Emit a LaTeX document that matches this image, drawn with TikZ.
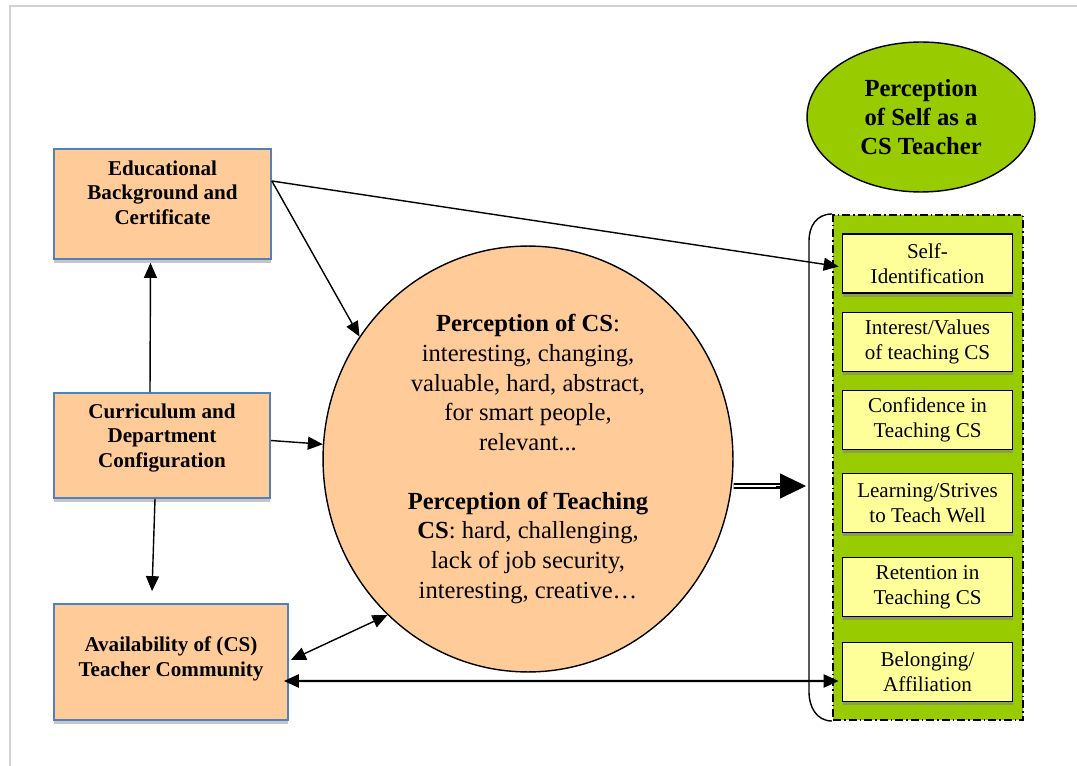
\documentclass[tikz,border=0pt]{standalone}
\usepackage{fontspec}
\setmainfont{Liberation Serif}
\usepackage{xcolor}
\usepackage{tikz}
\usetikzlibrary{arrows.meta,shapes.geometric,shadows}

\definecolor{peach}{HTML}{FFCC99}
\definecolor{boxblue}{HTML}{4F81BD}
\definecolor{leaf}{HTML}{99CC00}
\definecolor{paleyellow}{HTML}{FFFF99}

\begin{document}
\begin{tikzpicture}[x=0.02cm,y=-0.02cm,
    >={Triangle[length=0.3cm,width=0.26cm]},
    orgbox/.style={draw=boxblue,line width=1pt,fill=peach,
      drop shadow={shadow xshift=0pt,shadow yshift=-0.09cm,fill=gray!45,opacity=1}},
    orgtext/.style={align=center,font=\fontsize{12}{13.9}\selectfont\bfseries},
    selfbox/.style={draw,line width=1pt,fill=paleyellow,minimum width=3.4cm,minimum height=1.18cm,
      align=center,font=\fontsize{12}{14.2}\selectfont,
      drop shadow={shadow xshift=0pt,shadow yshift=-0.08cm,fill=gray!60!leaf,opacity=1}},
    link/.style={->,thick}]
    \useasboundingbox (0,0) rectangle (1077,766);

    % Frame
    \draw[gray!35,line width=1pt] (10,766) -- (10,6) -- (1077,6);

    % Influencing factors
    \node[orgbox,minimum width=4.34cm,minimum height=2.2cm] (b1) at (162.5,204) {};
    \node[orgtext] (t1) at ([yshift=0.23cm]b1.center) {Educational\\Background and\\Certificate};
    \node[orgbox,minimum width=4.32cm,minimum height=2.1cm] (b2) at (162,445.5) {};
    \node[orgtext] (t2) at ([yshift=0.15cm]b2.center) {Curriculum and\\Department\\Configuration};
    \node[orgbox,minimum width=4.68cm,minimum height=2.32cm] (b3) at (171,662) {};
    \node[orgtext] (t3) at ([yshift=0.06cm]b3.center) {Availability of (CS)\\Teacher Community};

    % Perceptions
    \node[ellipse,draw,thick,fill=peach,inner sep=0pt,minimum width=8.2cm,minimum height=8.52cm,
      align=center,font=\fontsize{14}{16.9}\selectfont] (pc) at (528,459)
      {\textbf{Perception of CS}:\\interesting, changing,\\valuable, hard, abstract,\\for smart people,\\relevant...\\[0.58cm]
       \textbf{Perception of Teaching}\\\textbf{CS}: hard, challenging,\\lack of job security,\\interesting, creative\ldots};

    % Perception of self
    \node[ellipse,draw,thick,fill=leaf,inner sep=0pt,minimum width=4.56cm,minimum height=3.0cm,
      align=center,font=\fontsize{14}{16.5}\selectfont\bfseries] (ps) at (921,117)
      {Perception\\of Self as a\\CS Teacher};
    \node[draw,fill=leaf,line width=1.2pt,dash pattern=on 0.16cm off 0.06cm on 0.03cm off 0.06cm,
      minimum width=3.8cm,minimum height=10.1cm] (grp) at (928,467.5) {};
    \draw[thick] (grp.north west) .. controls +(-16,0) and +(0,-14) .. ++(-23,27)
      -- ++(0,451) .. controls +(0,14) and +(-16,0) .. (grp.south west);

    \node[selfbox] (sa) at (927.5,263.5) {Self-\\Identification};
    \node[selfbox] (sb) at (927.5,342) {Interest/Values\\of teaching CS};
    \node[selfbox] (sc) at (927.5,420) {Confidence in\\Teaching CS};
    \node[selfbox] (sd) at (927.5,503) {Learning/Strives\\to Teach Well};
    \node[selfbox] (se) at (927.5,587) {Retention in\\Teaching CS};
    \node[selfbox] (sf) at (927.5,672) {Belonging/\\Affiliation};

    % Connections
    \draw[link] ([yshift=0.46cm]b1.east) -- ([xshift=-0.06cm,yshift=-0.06cm]sa.west);
    \draw[link] ([yshift=0.46cm]b1.east) -- (pc.144);
    \draw[link] ([xshift=-0.24cm]b2.north) -- ([xshift=-0.24cm,yshift=-0.06cm]b1.south);
    \draw[link] ([yshift=0.1cm]b2.east) -- (pc);
    \draw[link] ([xshift=-0.14cm]b2.south) -- ([xshift=-0.38cm,yshift=0.24cm]b3.north);
    \draw[<->,thick] ([xshift=0.04cm,yshift=0.04cm]b3.east) -- (pc.228);
    \draw[<->,line width=1.4pt] ([xshift=-0.1cm,yshift=-0.38cm]b3.east) -- ([xshift=-0.06cm,yshift=-0.18cm]sf.west);

    % Outcome arrow
    \coordinate (brk) at (806,486);
    \draw[double,double distance=1.1pt,line width=1.1pt,shorten >=0.5cm] ([yshift=-0.54cm]pc.east) -- (brk);
    \draw[-{Triangle[length=0.52cm,width=0.5cm]},line width=0.5pt] ([xshift=-0.6cm]brk) -- (brk);
\end{tikzpicture}
\end{document}
